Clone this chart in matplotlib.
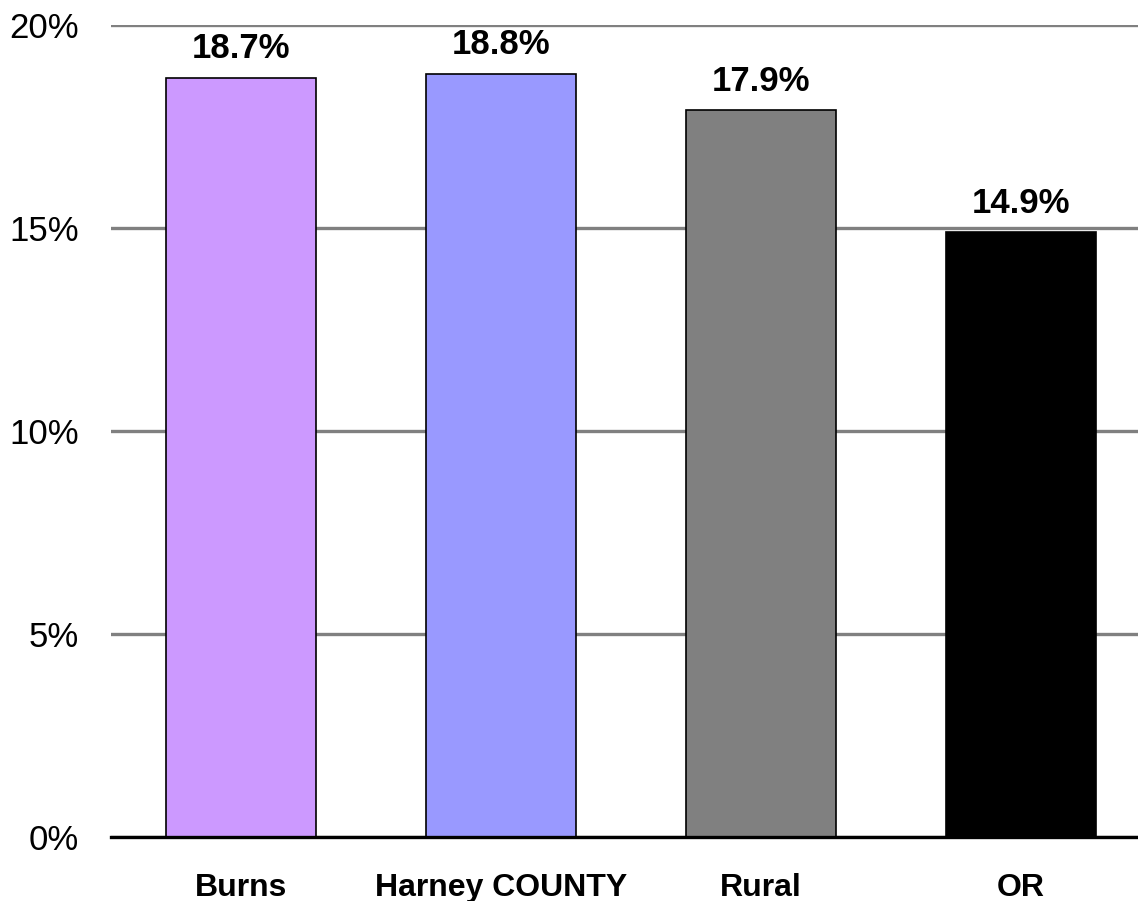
import matplotlib.pyplot as plt

categories = ['Burns', 'Harney COUNTY', 'Rural', 'OR']
values = [18.7, 18.8, 17.9, 14.9]
colors = ['#CC99FF', '#9999FF', '#808080', '#000000']
yticks = [0, 5, 10, 15, 20]

plt.rcParams['font.family'] = ['Liberation Sans', 'DejaVu Sans']

fig = plt.figure(figsize=(11.38, 9.01), dpi=100)
ax = fig.add_axes([111 / 1138, 64 / 901, 1027 / 1138, 812 / 901])

x = range(len(categories))
ax.bar(x, values, width=0.58, color=colors, edgecolor='black', linewidth=1.2, zorder=3)
for i, v in enumerate(values):
    ax.annotate(f'{v}%', (i, v), xytext=(0, 9), textcoords='offset points',
                ha='center', va='bottom', fontsize=25, fontweight='bold')

ax.set_xlim(-0.5, 3.45)
ax.set_ylim(0, 20)
ax.set_yticks(yticks)
ax.set_yticklabels([f'{t}%' for t in yticks], fontsize=25)
ax.set_xticks(list(x))
ax.set_xticklabels(categories, fontsize=23, fontweight='bold')
ax.tick_params(axis='y', length=0, pad=23)
ax.tick_params(axis='x', length=0, pad=26)

ax.yaxis.grid(True, color='#808080', linewidth=2.4, zorder=0)
ax.set_axisbelow(True)
for s in ['top', 'right', 'left']:
    ax.spines[s].set_visible(False)
ax.spines['bottom'].set_linewidth(2.4)
ax.spines['bottom'].set_zorder(4)

plt.savefig('out.png', dpi=100)
